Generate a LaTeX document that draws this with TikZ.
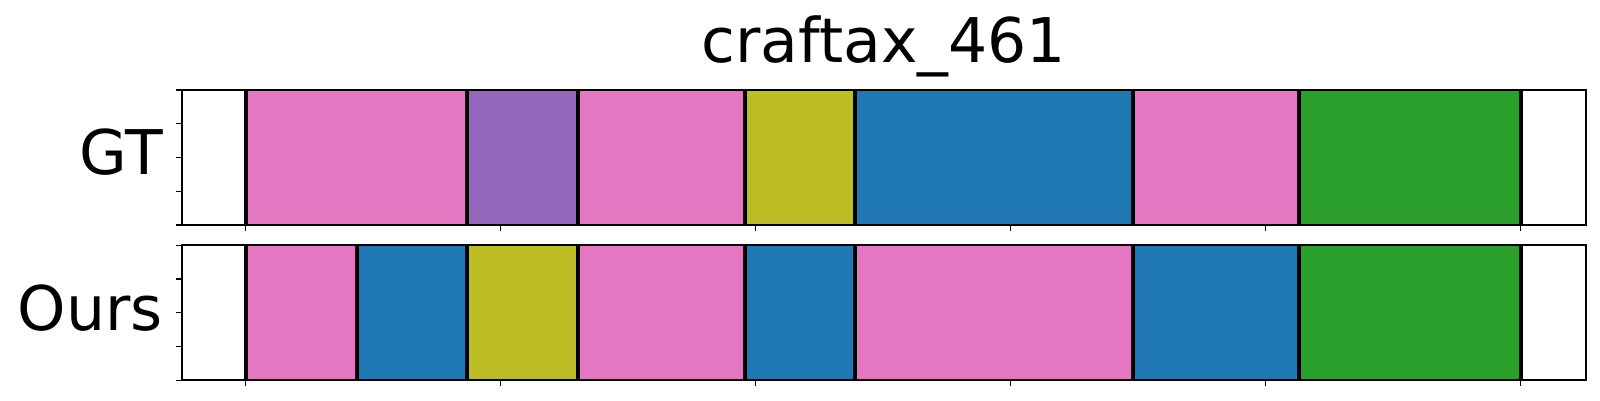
\documentclass[tikz,border=0pt]{standalone}
\usepackage{fontspec}
\setmainfont{DejaVu Sans}
\usetikzlibrary{positioning}

\definecolor{tabpink}{HTML}{E377C2}
\definecolor{tabpurple}{HTML}{9467BD}
\definecolor{tabolive}{HTML}{BCBD22}
\definecolor{tabblue}{HTML}{1F77B4}
\definecolor{tabgreen}{HTML}{2CA02C}

\begin{document}
\begin{tikzpicture}[x=0.25pt,y=-0.25pt,
    seg/.style={fill=#1,draw=#1!85!black,line width=0.2pt},
    sep/.style={line width=1pt,black},
    spine/.style={line width=0.5pt,black},
    tickmark/.style={line width=0.3pt,black},
    lbl/.style={inner sep=0pt,font=\fontsize{15.4pt}{18pt}\selectfont}]

    \useasboundingbox (0,0) rectangle (1600,400);

    % title and row labels
    \node[lbl,anchor=base] (title) at (883.7,62.3) {craftax\_461};
    \node[lbl,anchor=base east] (gt) at (163.5,174) {GT};
    \node[lbl,anchor=base east] (ours) at (163.5,330) {Ours};

    % GT segments
    \foreach \from/\to/\col [
        evaluate = \from as \xa using {245.7+55.43*\from},
        evaluate = \to as \xb using {245.7+55.43*\to},
    ] in {0/4/tabpink,4/6/tabpurple,6/9/tabpink,9/11/tabolive,11/16/tabblue,16/19/tabpink,19/23/tabgreen}{
        \draw[seg=\col] (\xa,90.3) rectangle (\xb,225);
    }
    \foreach \b [evaluate = \b as \xb using {245.7+55.43*\b}] in {0,4,6,9,11,16,19,23}{
        \draw[sep] (\xb,90.3) -- (\xb,225);
    }

    % Ours segments
    \foreach \from/\to/\col [
        evaluate = \from as \xa using {245.7+55.43*\from},
        evaluate = \to as \xb using {245.7+55.43*\to},
    ] in {0/2/tabpink,2/4/tabblue,4/6/tabolive,6/9/tabpink,9/11/tabblue,11/16/tabpink,16/19/tabblue,19/23/tabgreen}{
        \draw[seg=\col] (\xa,245.3) rectangle (\xb,380.3);
    }
    \foreach \b [evaluate = \b as \xb using {245.7+55.43*\b}] in {0,2,4,6,9,11,16,19,23}{
        \draw[sep] (\xb,245.3) -- (\xb,380.3);
    }

    % axes frames and ticks
    \foreach \ya/\yb in {90.3/225,245.3/380.3}{
        \draw[spine] (181.7,\ya) rectangle (1585.7,\yb);
        \foreach \k in {0,...,4}{
            \draw[tickmark] (181.7,{\yb-33.75*\k}) -- (176.2,{\yb-33.75*\k});
        }
        \foreach \k in {0,...,5}{
            \draw[tickmark] ({245.7+255*\k},\yb) -- ({245.7+255*\k},\yb+5.5);
        }
    }

\end{tikzpicture}
\end{document}
